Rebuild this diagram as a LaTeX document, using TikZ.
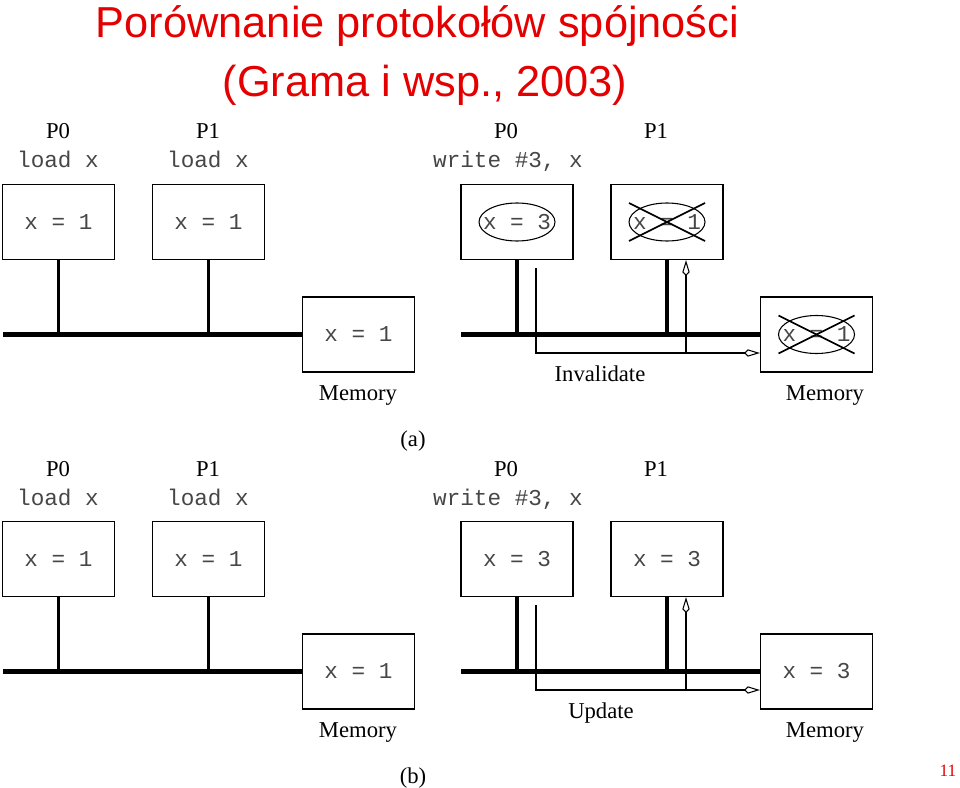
\documentclass[tikz,border=0pt]{standalone}
\usepackage{fontspec}
\setmainfont{Liberation Serif}
\setmonofont{Liberation Mono}
\newfontfamily\titlefont{Liberation Sans}
\usetikzlibrary{arrows.meta,calc}
\definecolor{titlered}{RGB}{228,0,0}
\definecolor{monogray}{RGB}{70,70,70}
\begin{document}
\begin{tikzpicture}[x=0.75pt,y=-0.75pt,
  cache/.style={draw,line width=0.9pt,minimum width=84pt,minimum height=56.25pt,inner sep=0pt,font=\fontsize{17}{20}\ttfamily,text=monogray},
  cell/.style={inner sep=0pt,font=\fontsize{17}{20}\ttfamily,text=monogray},
  ring/.style={line width=0.8pt},
  bus/.style={line width=3.2pt},
  stem/.style={line width=2.6pt},
  sig/.style={line width=0.8pt},
  xout/.style={line width=1.3pt},
  tip/.style={-{Kite[open,length=12pt,width=5.5pt,inset=3pt]}},
  lbl/.style={font=\fontsize{17}{20}\selectfont,anchor=base},
  cmd/.style={font=\fontsize{17}{20}\ttfamily,anchor=base,text=monogray},
  ttl/.style={font=\titlefont\fontsize{32.5}{38}\selectfont,text=titlered,anchor=base}
]
\useasboundingbox (0,0) rectangle (960,788);

% title
\node[ttl] (t1) at (417.5,38) {Porównanie protokołów spójności};
\node[ttl] (t2) at (425,97) {(Grama i wsp., 2003)};

% ---------------- panel (a)
\node[lbl] (a-p0) at (58,139) {P0};
\node[cmd] (a-c0) at (58,168) {load x};
\node[lbl] (a-p1) at (208,139) {P1};
\node[cmd] (a-c1) at (208,168) {load x};
\node[lbl] (a-p2) at (506,139) {P0};
\node[cmd] (a-c2) at (508,168) {write \#3, x};
\node[lbl] (a-p3) at (656,139) {P1};

\node[cache] (a-b1) at (58.5,222) {x = 1};
\node[cache] (a-b2) at (208.5,222) {x = 1};
\node[cache] (a-b3) at (517,222) {};
\node[cell] (a-e3) at (a-b3.center) {x = 3};
\draw[ring] (a-e3.center) ellipse [x radius=28.5pt, y radius=14.25pt];
\node[cache] (a-b4) at (667,222) {};
\node[cell] (a-e4) at (a-b4.center) {x = 1};
\draw[ring] (a-e4.center) ellipse [x radius=28.5pt, y radius=14.25pt];
\draw[xout] ($(a-e4.center)+(-38,-19)$) -- ($(a-e4.center)+(38,19)$);
\draw[xout] ($(a-e4.center)+(-38,19)$) -- ($(a-e4.center)+(38,-19)$);

\node[cache] (a-m1) at (358.5,334.5) {x = 1};
\node[cache] (a-m2) at (816.5,334.5) {};
\node[cell] (a-e5) at (a-m2.center) {x = 1};
\draw[ring] (a-e5.center) ellipse [x radius=28.5pt, y radius=14.25pt];
\draw[xout] ($(a-e5.center)+(-38,-19)$) -- ($(a-e5.center)+(38,19)$);
\draw[xout] ($(a-e5.center)+(-38,19)$) -- ($(a-e5.center)+(38,-19)$);
\node[lbl] (a-ml1) at (358,400) {Memory};
\node[lbl] (a-ml2) at (825,400) {Memory};

\coordinate (a-l0) at (3,334.5);
\coordinate (a-r0) at (461,334.5);
\draw[bus] (a-l0) -- (a-m1.west);
\draw[bus] (a-r0) -- (a-m2.west);
\draw[stem] (a-b1.south) -- (a-b1.south |- a-l0);
\draw[stem] (a-b2.south) -- (a-b2.south |- a-l0);
\draw[stem] (a-b3.south) -- (a-b3.south |- a-r0);
\draw[stem] (a-b4.south) -- (a-b4.south |- a-r0);

\coordinate (a-s) at (536,268);
\coordinate (a-j) at (686,353);
\draw[sig,tip] (a-s) |- (a-m2.west |- a-j);
\draw[sig,tip] (a-j) -- (a-b4.south -| a-j);
\node[lbl] (a-inv) at (600,381) {Invalidate};
\node[lbl] (a-cap) at (413,446) {(a)};

% ---------------- panel (b)
\node[lbl] (b-p0) at (58,476) {P0};
\node[cmd] (b-c0) at (58,505) {load x};
\node[lbl] (b-p1) at (208,476) {P1};
\node[cmd] (b-c1) at (208,505) {load x};
\node[lbl] (b-p2) at (506,476) {P0};
\node[cmd] (b-c2) at (508,505) {write \#3, x};
\node[lbl] (b-p3) at (656,476) {P1};

\node[cache] (b-b1) at (58.5,559) {x = 1};
\node[cache] (b-b2) at (208.5,559) {x = 1};
\node[cache] (b-b3) at (517,559) {x = 3};
\node[cache] (b-b4) at (667,559) {x = 3};

\node[cache] (b-m1) at (358.5,671.5) {x = 1};
\node[cache] (b-m2) at (816.5,671.5) {x = 3};
\node[lbl] (b-ml1) at (358,737) {Memory};
\node[lbl] (b-ml2) at (825,737) {Memory};

\coordinate (b-l0) at (3,671.5);
\coordinate (b-r0) at (461,671.5);
\draw[bus] (b-l0) -- (b-m1.west);
\draw[bus] (b-r0) -- (b-m2.west);
\draw[stem] (b-b1.south) -- (b-b1.south |- b-l0);
\draw[stem] (b-b2.south) -- (b-b2.south |- b-l0);
\draw[stem] (b-b3.south) -- (b-b3.south |- b-r0);
\draw[stem] (b-b4.south) -- (b-b4.south |- b-r0);

\coordinate (b-s) at (536,605);
\coordinate (b-j) at (686,690);
\draw[sig,tip] (b-s) |- (b-m2.west |- b-j);
\draw[sig,tip] (b-j) -- (b-b4.south -| b-j);
\node[lbl] (b-upd) at (601,718) {Update};
\node[lbl] (b-cap) at (413,783) {(b)};

\node[font=\fontsize{13}{15}\selectfont,text=titlered,anchor=base] (pg) at (948,776) {11};
\end{tikzpicture}
\end{document}
